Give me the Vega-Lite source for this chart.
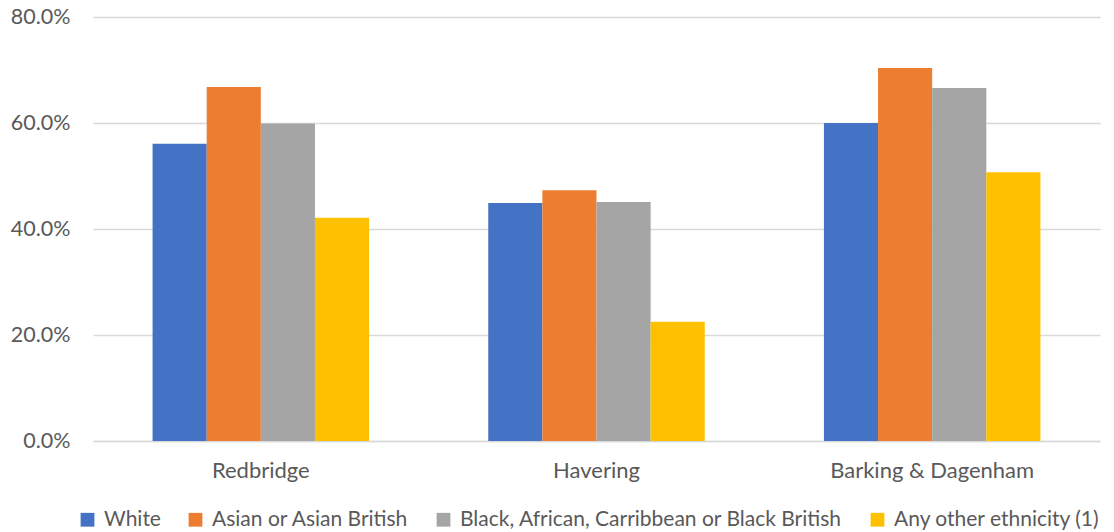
{
  "$schema": "https://vega.github.io/schema/vega-lite/v6.json",
  "width": 1007,
  "height": 424,
  "autosize": {"type": "none"},
  "padding": {"left": 93, "top": 17, "right": 14, "bottom": 91},
  "background": "white",
  "config": {
    "view": {"stroke": null},
    "font": "Lato",
    "axis": {"labelFont": "Lato", "labelColor": "#595959", "labelFontSize": 21.5},
    "legend": {"labelFont": "Lato", "labelColor": "#595959", "labelFontSize": 21}
  },
  "data": {
    "values": [
      {"borough": "Redbridge", "ethnicity": "White", "value": 0.561},
      {"borough": "Redbridge", "ethnicity": "Asian or Asian British", "value": 0.668},
      {"borough": "Redbridge", "ethnicity": "Black, African, Carribbean or Black British", "value": 0.599},
      {"borough": "Redbridge", "ethnicity": "Any other ethnicity (1)", "value": 0.421},
      {"borough": "Havering", "ethnicity": "White", "value": 0.449},
      {"borough": "Havering", "ethnicity": "Asian or Asian British", "value": 0.473},
      {"borough": "Havering", "ethnicity": "Black, African, Carribbean or Black British", "value": 0.451},
      {"borough": "Havering", "ethnicity": "Any other ethnicity (1)", "value": 0.225},
      {"borough": "Barking & Dagenham", "ethnicity": "White", "value": 0.600},
      {"borough": "Barking & Dagenham", "ethnicity": "Asian or Asian British", "value": 0.704},
      {"borough": "Barking & Dagenham", "ethnicity": "Black, African, Carribbean or Black British", "value": 0.666},
      {"borough": "Barking & Dagenham", "ethnicity": "Any other ethnicity (1)", "value": 0.507}
    ]
  },
  "mark": {"type": "bar"},
  "encoding": {
    "x": {
      "field": "borough",
      "type": "nominal",
      "sort": ["Redbridge", "Havering", "Barking & Dagenham"],
      "scale": {"paddingInner": 0.355, "paddingOuter": 0.1775},
      "axis": {"title": null, "labelAngle": 0, "ticks": false, "domain": true, "domainColor": "#d9d9d9", "domainWidth": 1.5, "labelPadding": 19, "labelLimit": 500, "grid": false, "labelFontSize": 22}
    },
    "xOffset": {
      "field": "ethnicity",
      "type": "nominal",
      "sort": ["White", "Asian or Asian British", "Black, African, Carribbean or Black British", "Any other ethnicity (1)"],
      "scale": {"paddingInner": 0, "paddingOuter": 0}
    },
    "y": {
      "field": "value",
      "type": "quantitative",
      "scale": {"domain": [0, 0.8]},
      "axis": {"title": null, "format": ".1%", "values": [0, 0.2, 0.4, 0.6, 0.8], "ticks": false, "domain": false, "gridColor": "#d9d9d9", "gridWidth": 1.5, "labelPadding": 23}
    },
    "color": {
      "field": "ethnicity",
      "type": "nominal",
      "scale": {
        "domain": ["White", "Asian or Asian British", "Black, African, Carribbean or Black British", "Any other ethnicity (1)"],
        "range": ["#4472C4", "#ED7D31", "#A5A5A5", "#FFC000"]
      },
      "legend": {
        "title": null,
        "orient": "none",
        "direction": "horizontal",
        "legendX": -16,
        "legendY": 492,
        "symbolType": "square",
        "symbolSize": 190,
        "symbolStrokeWidth": 0,
        "labelLimit": 600,
        "labelOffset": 6,
        "columnPadding": 24
      }
    }
  }
}
